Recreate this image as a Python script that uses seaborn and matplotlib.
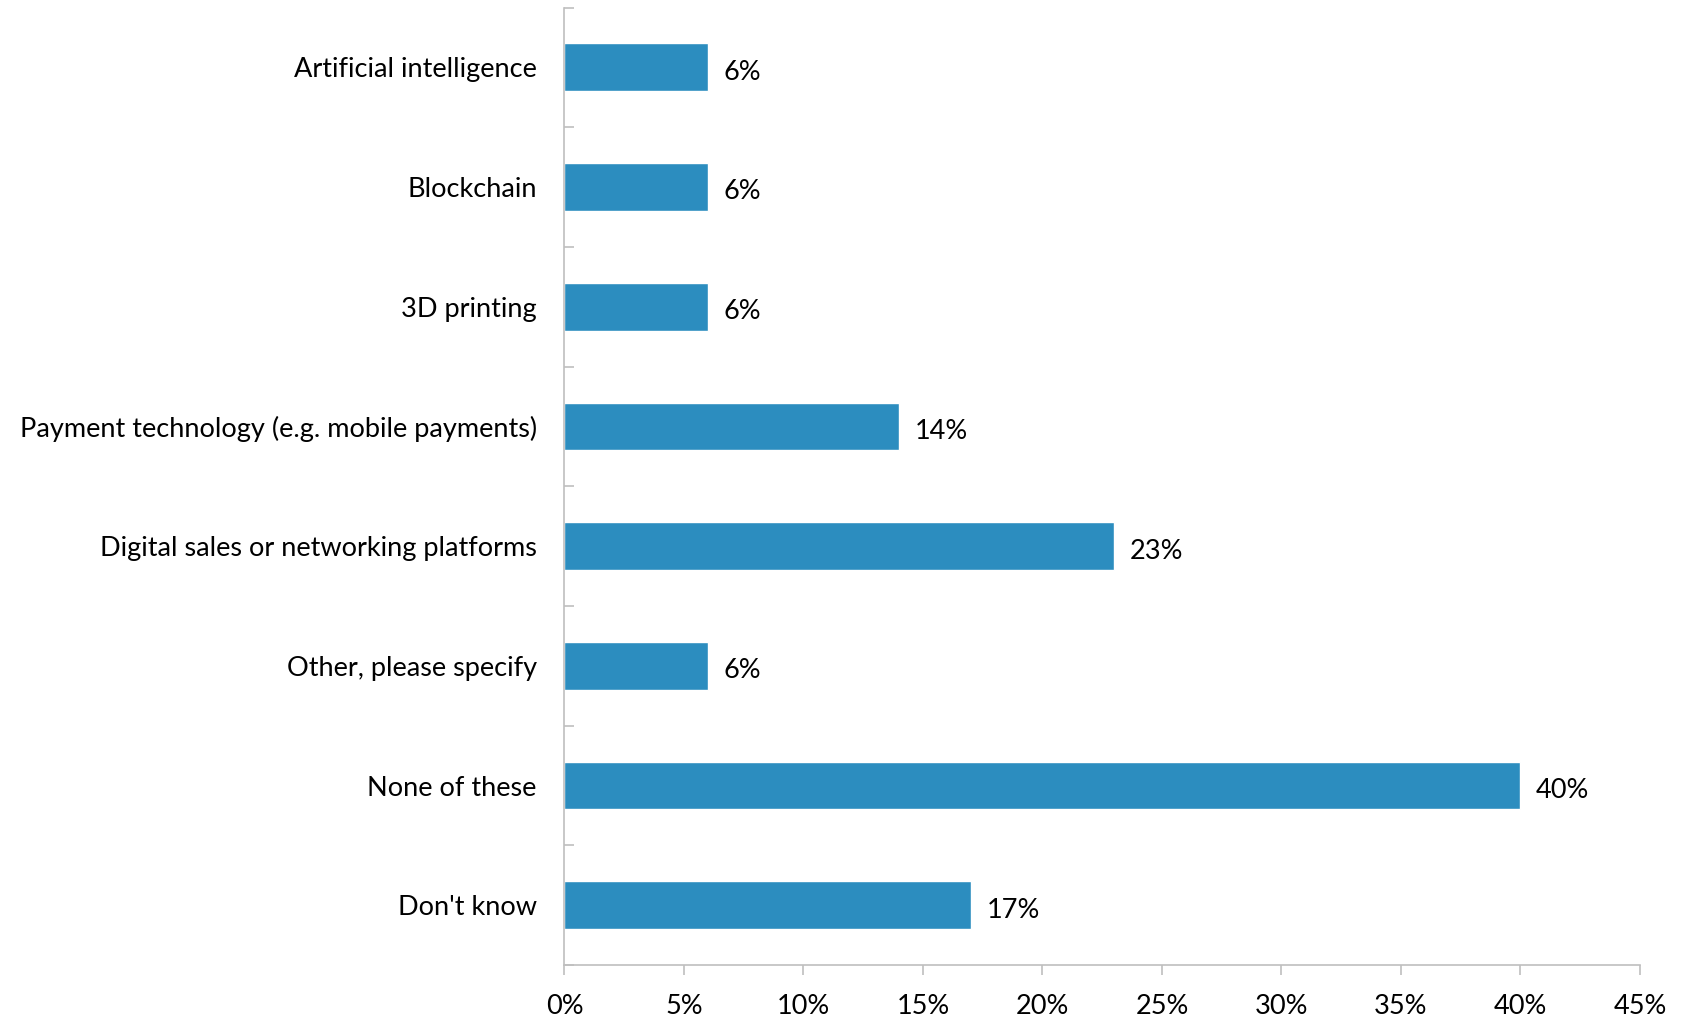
import matplotlib
matplotlib.use("Agg")
import matplotlib.pyplot as plt
import seaborn as sns
import pandas as pd
import numpy as np

categories = [
    "Artificial intelligence",
    "Blockchain",
    "3D printing",
    "Payment technology (e.g. mobile payments)",
    "Digital sales or networking platforms",
    "Other, please specify",
    "None of these",
    "Don't know",
]
shares = [6, 6, 6, 14, 23, 6, 40, 17]
x_ticks = [0, 5, 10, 15, 20, 25, 30, 35, 40, 45]

sns.set_theme(style="white")
plt.rcParams["font.family"] = ["Lato", "DejaVu Sans"]

df = pd.DataFrame({"category": categories, "share": shares})

fig = plt.figure(figsize=(16.86, 10.18), dpi=100)
ax = fig.add_axes([0.3348, 0.052, 0.9727 - 0.3348, 0.9926 - 0.052])

sns.barplot(data=df, x="share", y="category", orient="h", color="#2C8DBF",
            saturation=1, width=0.4, ax=ax)

fs = 19.5
ax.set_xlim(0, 45)
ax.set_ylim(len(categories) - 0.5, -0.5)
ax.set_xticks(x_ticks)
ax.set_xticklabels([f"{t}%" for t in x_ticks], fontsize=fs, color="black")
ax.set_xlabel("")
ax.set_ylabel("")
ax.tick_params(axis="y", length=0, pad=20, labelsize=fs, labelcolor="black")
ax.tick_params(axis="x", direction="out", length=7, width=1.2, color="#BFBFBF",
               pad=14, bottom=True)
ax.set_yticks(np.arange(-0.5, len(categories), 1.0), minor=True)
ax.tick_params(axis="y", which="minor", direction="in", length=7, width=1.2,
               color="#BFBFBF", left=True)

for side in ["top", "right"]:
    ax.spines[side].set_visible(False)
for side in ["left", "bottom"]:
    ax.spines[side].set_color("#BFBFBF")
    ax.spines[side].set_linewidth(1.2)

for i, v in enumerate(shares):
    ax.text(v + 0.65, i + 0.02, f"{v}%", va="center_baseline", ha="left",
            fontsize=fs, color="black")

fig.savefig("out.png", dpi=100)
